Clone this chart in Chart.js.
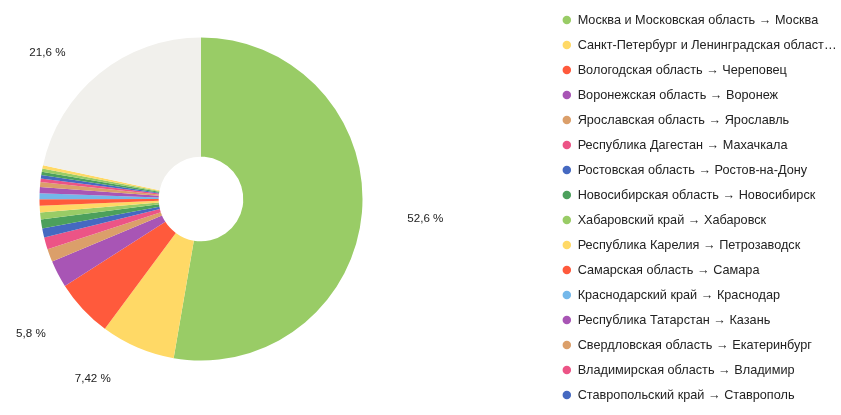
<!DOCTYPE html>
<html>
<head>
<meta charset="utf-8">
<script src="https://cdn.jsdelivr.net/npm/chart.js@4.4.1/dist/chart.umd.min.js"></script>
<style>
  html, body { margin: 0; padding: 0; background: #ffffff; }
  #wrap { width: 841px; height: 415px; position: relative; }
</style>
</head>
<body>
<div id="wrap"><canvas id="c"></canvas></div>
<script>
// ---- data ----
const categories = [
  "Москва и Московская область → Москва",
  "Санкт-Петербург и Ленинградская область → Санкт-Петербург",
  "Вологодская область → Череповец",
  "Воронежская область → Воронеж",
  "Ярославская область → Ярославль",
  "Республика Дагестан → Махачкала",
  "Ростовская область → Ростов-на-Дону",
  "Новосибирская область → Новосибирск",
  "Хабаровский край → Хабаровск",
  "Республика Карелия → Петрозаводск",
  "Самарская область → Самара",
  "Краснодарский край → Краснодар",
  "Республика Татарстан → Казань",
  "Свердловская область → Екатеринбург",
  "Владимирская область → Владимир",
  "Ставропольский край → Ставрополь",
  "Другой регион (17)",
  "Другой регион (18)",
  "Другой регион (19)",
  "Остальные"
];
const shares = [52.6, 7.42, 5.8, 2.7, 1.3, 1.2, 0.9, 0.9, 0.7, 0.65, 0.65, 0.6, 0.6, 0.5, 0.35, 0.33, 0.33, 0.33, 0.33, 21.6];
const sliceColors = [
  "#99CC66", "#FFD966", "#FF5A3C", "#A855B5", "#DB9F6A", "#EC5486", "#4569C1", "#4CA05C",
  "#99CC66", "#FFD966", "#FF5A3C", "#74B8EA", "#A855B5", "#DB9F6A", "#EC5486", "#4569C1",
  "#4CA05C", "#99CC66", "#FFD966", "#F1F0EC"
];
const LEGEND_COUNT = 16;   // legend shows only the first entries
const LABEL_MIN = 5;       // percentage labels only for big slices

const FONT_FAMILY = 'Arial, "Liberation Sans", sans-serif';
const TEXT_COLOR = '#222222';
const LEGEND_FONT_SIZE = 12.7;
const LABEL_FONT_SIZE = 11.6;

function pctText(v) {
  return String(v).replace('.', ',') + ' %';
}

// Layout spacers to position the doughnut like the reference
function makeSpacer(position, size) {
  return {
    position: position, weight: -10, fullSize: false, options: {},
    left: 0, top: 0, right: 0, bottom: 0, width: 0, height: 0,
    isHorizontal() { return position === 'top' || position === 'bottom'; },
    update(maxW, maxH) {
      if (this.isHorizontal()) { this.width = maxW; this.height = size; }
      else { this.width = size; this.height = maxH; }
    },
    draw() {}
  };
}
const spacerPlugin = {
  id: 'spacers',
  beforeInit(chart) {
    Chart.layouts.addBox(chart, makeSpacer('right', 148));
    Chart.layouts.addBox(chart, makeSpacer('bottom', 17));
  }
};

const pctLabels = {
  id: 'pctLabels',
  afterDatasetsDraw(chart) {
    const meta = chart.getDatasetMeta(0);
    const ctx = chart.ctx;
    ctx.save();
    ctx.font = LABEL_FONT_SIZE + 'px ' + FONT_FAMILY;
    ctx.fillStyle = TEXT_COLOR;
    ctx.textBaseline = 'middle';
    meta.data.forEach((arc, i) => {
      const v = shares[i];
      if (v < LABEL_MIN) return;
      const p = arc.getProps(['x', 'y', 'startAngle', 'endAngle', 'outerRadius'], true);
      const mid = (p.startAngle + p.endAngle) / 2;
      const R = p.outerRadius + 31;
      const px = p.x + Math.cos(mid) * R;
      const py = p.y + Math.sin(mid) * R;
      const right = Math.cos(mid) >= 0;
      ctx.textAlign = right ? 'left' : 'right';
      ctx.fillText(pctText(v), px + (right ? 14.5 : -14.5), py + 3);
    });
    ctx.restore();
  }
};

const LEGEND_MAX_W = 291;
const baseGen = Chart.overrides.doughnut.plugins.legend.labels.generateLabels;

new Chart(document.getElementById('c'), {
  type: 'doughnut',
  data: {
    labels: categories,
    datasets: [{
      data: shares,
      backgroundColor: sliceColors,
      borderWidth: 0,
      radius: 161.5,
      cutout: '26.2%'
    }]
  },
  options: {
    responsive: true,
    maintainAspectRatio: false,
    animation: false,
    layout: { padding: 0 },
    plugins: {
      tooltip: { enabled: false },
      legend: {
        position: 'right',
        align: 'center',
        maxWidth: LEGEND_MAX_W,
        labels: {
          usePointStyle: true,
          pointStyle: 'circle',
          boxWidth: 9,
          boxHeight: 6,
          padding: 12.3,
          color: TEXT_COLOR,
          font: { size: LEGEND_FONT_SIZE, family: FONT_FAMILY },
          filter: (item) => item.index < LEGEND_COUNT,
          generateLabels: (chart) => {
            const items = baseGen(chart);
            const ctx = chart.ctx;
            ctx.save();
            ctx.font = LEGEND_FONT_SIZE + 'px ' + FONT_FAMILY;
            const maxText = LEGEND_MAX_W - 12 - 9 - LEGEND_FONT_SIZE / 2;
            items.forEach(it => {
              let t = it.text;
              if (ctx.measureText(t).width > maxText) {
                while (t.length > 1 && ctx.measureText(t + '…').width > maxText) t = t.slice(0, -1);
                it.text = t.replace(/\s+$/, '') + '…';
              }
            });
            ctx.restore();
            return items;
          }
        }
      }
    }
  },
  plugins: [spacerPlugin, pctLabels]
});
</script>
</body>
</html>
